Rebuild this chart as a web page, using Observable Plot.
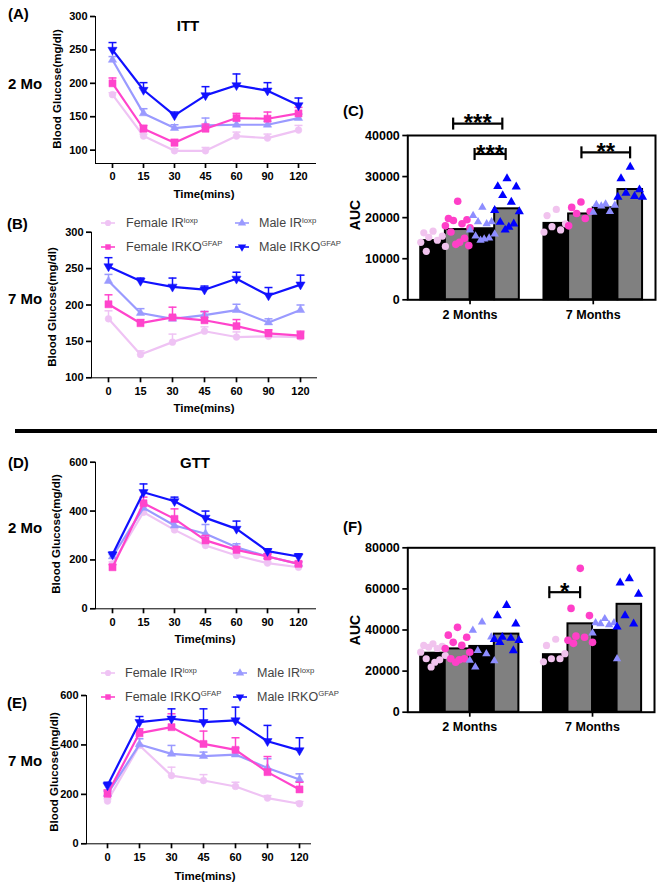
<!DOCTYPE html>
<html>
<head>
<meta charset="utf-8">
<script src="https://cdn.jsdelivr.net/npm/d3@7"></script>
<script src="https://cdn.jsdelivr.net/npm/@observablehq/plot@0.6"></script>
<style>
html,body{margin:0;padding:0;background:#fff;}
#fig{position:relative;width:663px;height:886px;overflow:hidden;font-family:"Liberation Sans",Arial,sans-serif;color:#000;background:#fff;}
.abs{position:absolute;white-space:nowrap;line-height:1;}
.panel svg{overflow:visible;}
.panel svg [aria-label*="axis"] line,.panel svg [aria-label*="axis"] path{stroke-width:1.7px;}
.panel svg g[aria-label*="axis"]{stroke-width:1.7px;}
sup{font-size:0.62em;vertical-align:0;position:relative;top:-0.55em;}
</style>
</head>
<body>
<div id="fig"></div>
<script>
// ---------- categories / labels ----------
const times = ["0","15","30","45","60","90","120"];
const seriesNames = ["Female IRloxp","Female IRKO","Male IRloxp","Male IRKO"];
const legendLabels = ["Female IR<sup>loxp</sup>","Female IRKO<sup>GFAP</sup>","Male IR<sup>loxp</sup>","Male IRKO<sup>GFAP</sup>"];
const months = ["2 Months","7 Months"];
const glucoseTicks = [100,150,200,250,300];
const gttTicks = [0,200,400,600];
const aucTicksC = [0,10000,20000,30000,40000];
const aucTicksF = [0,20000,40000,60000,80000];

// ---------- (A) ITT 2 Mo : mean and SEM ----------
const ittA_fLoxp = [183,121,99,99,121,118,130];
const ittA_fLoxp_sem = [3,3,3,5,6,6,7];
const ittA_fKO = [200,132,111,132,148,147,155];
const ittA_fKO_sem = [8,5,5,7,7,10,9];
const ittA_mLoxp = [235,155,133,137,138,138,148];
const ittA_mLoxp_sem = [5,7,5,11,6,5,6];
const ittA_mKO = [250,190,152,182,197,189,167];
const ittA_mKO_sem = [11,11,5,13,17,12,11];
// ---------- (B) ITT 7 Mo ----------
const ittB_fLoxp = [181,132,149,164,156,157,156];
const ittB_fLoxp_sem = [11,5,11,6,7,3,6];
const ittB_fKO = [201,175,183,179,171,161,158];
const ittB_fKO_sem = [13,5,14,12,9,5,6];
const ittB_mLoxp = [233,189,181,186,193,176,193];
const ittB_mLoxp_sem = [9,6,4,5,8,5,7];
const ittB_mKO = [253,233,225,221,236,213,228];
const ittB_mKO_sem = [12,4,12,5,9,11,13];
// ---------- (D) GTT 2 Mo ----------
const gttD_fLoxp = [184,395,323,259,218,187,170];
const gttD_fLoxp_sem = [8,10,8,8,6,5,5];
const gttD_fKO = [170,432,368,280,241,214,184];
const gttD_fKO_sem = [11,25,41,20,14,11,10];
const gttD_mLoxp = [214,413,341,307,252,214,184];
const gttD_mLoxp_sem = [8,19,14,38,14,11,7];
const gttD_mKO = [222,477,440,372,327,236,214];
const gttD_mKO_sem = [10,34,17,28,32,9,11];
// ---------- (E) GTT 7 Mo ----------
const gttE_fLoxp = [173,398,276,256,232,185,162];
const gttE_fLoxp_sem = [9,36,34,24,17,10,9];
const gttE_fKO = [202,448,472,404,380,290,220];
const gttE_fKO_sem = [16,17,54,52,49,63,29];
const gttE_mLoxp = [202,402,364,355,361,307,260];
const gttE_mLoxp_sem = [11,23,34,16,27,37,23];
const gttE_mKO = [236,492,506,492,499,415,378];
const gttE_mKO_sem = [13,23,40,54,54,64,51];

// ---------- (C) ITT AUC : bar means [2 Months, 7 Months] ----------
const aucC_fLoxp = [14400,18600];
const aucC_fKO = [17100,20900];
const aucC_mLoxp = [17300,22400];
const aucC_mKO = [22150,26850];
// individual animals
const ptsC_fLoxp_2 = [16700,16300,15500,15200,14500,14000,13000,11800];
const ptsC_fKO_2 = [24000,19800,19500,19300,18500,18000,17500,16500,15000,14000,13500,13200];
const ptsC_mLoxp_2 = [22500,20500,19000,19000,18500,17000,16000,15500,15000,14800,14500];
const ptsC_mKO_2 = [29500,27600,27500,25400,23800,21800,21500,18900,18500,17700,17000];
const ptsC_fLoxp_7 = [22000,20500,18500,17800,17000,16500];
const ptsC_fKO_7 = [23800,22500,21500,21000,19800,18000];
const ptsC_mLoxp_7 = [23300,23200,23000,22800,21500,21300];
const ptsC_mKO_7 = [32300,29500,26800,26000,25200,25000,25000];
const bracketsC = [
  {group:0, from:-0.137, to:0.262, y:42900, label:"***"},
  {group:0, from:0.037, to:0.289, y:35500, label:"***"},
  {group:1, from:-0.096, to:0.299, y:35900, label:"**"}
];

// ---------- (F) GTT AUC ----------
const aucF_fLoxp = [28700,28000];
const aucF_fKO = [30800,43000];
const aucF_mLoxp = [32000,39800];
const aucF_mKO = [38000,52500];
const ptsF_fLoxp_2 = [33300,32500,32000,31600,31000,29200,27600,26000,25500,24300,22000];
const ptsF_fKO_2 = [41300,37500,36500,34000,32500,31000,29200,26000,26000,25500,24300];
const ptsF_mLoxp_2 = [43800,39800,36500,30000,28400,25200,25000,22000];
const ptsF_mKO_2 = [52000,47000,43000,36500,36000,35500,35000,34000,30000];
const ptsF_fLoxp_7 = [35500,32500,28500,26000,26000,24500];
const ptsF_fKO_7 = [70000,50500,47000,37000,36500,35000,34000,33500];
const ptsF_mLoxp_7 = [45500,43500,43500,43000,42500,38500,26000];
const ptsF_mKO_7 = [65000,63000,57500,47000,43000,41500];
const bracketsF = [
  {group:1, from:-0.352, to:-0.101, y:58400, label:"*"}
];

// ---------- styles ----------
const lineColors = ["#efc3f4","#ff44cc","#9a9aff","#1111ff"];
const dotColors = ["#f1c3ee","#ff3fc8","#8d8dff","#0000ff"];
const FONT = "'Liberation Sans', Arial, sans-serif";

const downTri = {draw(ctx,size){const y=-Math.sqrt(size/(Math.sqrt(3)*3)); ctx.moveTo(0,-2*y); ctx.lineTo(-Math.sqrt(3)*y,y); ctx.lineTo(Math.sqrt(3)*y,y); ctx.closePath();}};
const capSym = {draw(ctx,size){const w=Math.sqrt(size/Math.PI); ctx.moveTo(-w,0); ctx.lineTo(w,0);}};
const vSym = {draw(ctx,size){const h=Math.sqrt(size/Math.PI); ctx.moveTo(0,-h); ctx.lineTo(0,h);}};
const lineSyms = ["circle","square","triangle",downTri];
const lineR = [3.4,4,3.1,3.4];
const legendSymTypes = [d3.symbolCircle,d3.symbolSquare,d3.symbolTriangle,downTri];
const barSyms = ["circle","circle","triangle","triangle"];
const barR = [3.6,3.8,3.1,3.4];
const jit = [0,-0.075,0.075,-0.035,0.035,-0.1,0.1,-0.055,0.055,0.015,-0.015,0.09];

const fig = document.getElementById("fig");
function addPlot(svg,left,top,width){
  const d=document.createElement("div");
  d.className="abs panel"; d.style.left=left+"px"; d.style.top=top+"px"; d.style.width=width+"px";
  d.appendChild(svg); fig.appendChild(d);
}
function addText(html,x,y,o={}){
  const d=document.createElement("div");
  d.className="abs"; d.innerHTML=html;
  d.style.left=x+"px"; d.style.top=y+"px";
  d.style.fontSize=(o.size||12)+"px";
  d.style.fontWeight=o.weight||"bold";
  d.style.color=o.color||"#000";
  const tx=o.anchor==="start"?"0":"-50%";
  d.style.transform=`translate(${tx},-50%)`+(o.rotate?` rotate(${o.rotate}deg)`:"");
  fig.appendChild(d);
}

function linePanel(cfg){
  const marks=[];
  for(const k of [0,2,1,3]){
    const d=times.map((t,i)=>({time:t,value:cfg.vals[k][i],sem:cfg.sems[k][i]}));
    const c=lineColors[k];
    marks.push(
      Plot.ruleX(d,{x:"time",y1:"value",y2:r=>r.value+r.sem,stroke:c,strokeWidth:1.5}),
      Plot.dot(d,{x:"time",y:r=>r.value+r.sem,symbol:capSym,r:4,stroke:c,fill:"none",strokeWidth:1.5}),
      Plot.line(d,{x:"time",y:"value",stroke:c,strokeWidth:2.2}),
      Plot.dot(d,{x:"time",y:"value",symbol:lineSyms[k],r:lineR[k],fill:c,stroke:c,strokeWidth:0.5})
    );
  }
  const svg=Plot.plot({
    width:cfg.width,height:cfg.height,
    marginLeft:cfg.mL,marginRight:cfg.mR,marginTop:cfg.mT,marginBottom:cfg.mB,
    style:{fontFamily:FONT,fontSize:"11px",fontWeight:"bold",color:"#000",background:"transparent"},
    x:{type:"point",domain:times,padding:cfg.pad,align:cfg.align??0.5,label:null,tickSize:5,tickPadding:4,line:true},
    y:{domain:cfg.yDomain,ticks:cfg.yTicks,label:null,tickSize:5,tickPadding:3,line:true},
    marks
  });
  addPlot(svg,cfg.left,cfg.top,cfg.width);
}

function barPanel(cfg){
  const bw=0.2;
  const bars=[];
  cfg.means.forEach((arr,k)=>arr.forEach((v,g)=>bars.push({k,g,x1:g+(k-2)*bw,x2:g+(k-1)*bw,value:v})));
  const pts=[];
  cfg.pts.forEach((byMonth,k)=>byMonth.forEach((vals,g)=>{
    [...vals].sort((a,b)=>b-a).forEach((v,i)=>pts.push({k,x:g+(k-1.5)*bw+jit[i%jit.length],value:v}));
  }));
  const brk=cfg.brackets;
  const marks=[
    Plot.rect(bars.filter(b=>b.k%2===0),{x1:"x1",x2:"x2",y1:0,y2:"value",fill:"#000",stroke:"#000",strokeWidth:2}),
    Plot.rect(bars.filter(b=>b.k%2===1),{x1:"x1",x2:"x2",y1:0,y2:"value",fill:"#808080",stroke:"#000",strokeWidth:2})
  ];
  for(const k of [0,1,2,3]) marks.push(Plot.dot(pts.filter(p=>p.k===k),{x:"x",y:"value",symbol:barSyms[k],r:barR[k],fill:dotColors[k],stroke:"none"}));
  marks.push(
    Plot.ruleY(brk,{y:"y",x1:d=>d.group+d.from,x2:d=>d.group+d.to,stroke:"#000",strokeWidth:2.2}),
    Plot.dot(brk.flatMap(d=>[{x:d.group+d.from,y:d.y},{x:d.group+d.to,y:d.y}]),{x:"x",y:"y",symbol:vSym,r:6,stroke:"#000",fill:"none",strokeWidth:2.2}),
    Plot.text(brk,{x:d=>d.group+(d.from+d.to)/2,y:"y",text:"label",fontSize:24,fontWeight:"bold",fill:"#000"}),
    Plot.frame({stroke:"#000",strokeWidth:2})
  );
  const svg=Plot.plot({
    width:cfg.width,height:cfg.height,
    marginLeft:cfg.mL,marginRight:cfg.mR,marginTop:cfg.mT,marginBottom:cfg.mB,
    style:{fontFamily:FONT,fontSize:"12.5px",fontWeight:"bold",color:"#000",background:"transparent"},
    x:{domain:[-0.505,1.505],ticks:[0,1],tickFormat:i=>months[i],label:null,tickSize:5,tickPadding:5},
    y:{domain:cfg.yDomain,ticks:cfg.yTicks,tickFormat:d3.format("d"),label:null,tickSize:5,tickPadding:3},
    marks
  });
  addPlot(svg,cfg.left,cfg.top,cfg.width);
}

function legend(y1,y2,sx1,tx1,sx2,tx2){
  const items=[[0,sx1,tx1,y1],[2,sx2,tx2,y1],[1,sx1,tx1,y2],[3,sx2,tx2,y2]];
  for(const [k,sx,tx,y] of items){
    const svg=d3.create("svg").attr("width",16).attr("height",12)
      .style("position","absolute").style("left",(sx-8)+"px").style("top",(y-6)+"px").style("overflow","visible");
    svg.append("line").attr("x1",1).attr("x2",15).attr("y1",6).attr("y2",6).attr("stroke",lineColors[k]).attr("stroke-width",1.6);
    svg.append("path").attr("transform","translate(8,6)").attr("d",d3.symbol(legendSymTypes[k],30)()).attr("fill",lineColors[k]);
    fig.appendChild(svg.node());
    addText(legendLabels[k],tx,y,{size:12.5,weight:"normal",color:"#444",anchor:"start"});
  }
}

// ---------- draw panels ----------
linePanel({left:0,top:0,width:320,height:185,mL:95,mR:5,mT:16,mB:22,pad:0.47,
  yDomain:[80,300],yTicks:glucoseTicks,
  vals:[ittA_fLoxp,ittA_fKO,ittA_mLoxp,ittA_mKO],sems:[ittA_fLoxp_sem,ittA_fKO_sem,ittA_mLoxp_sem,ittA_mKO_sem]});
linePanel({left:0,top:225,width:320,height:175,mL:91,mR:4,mT:6.7,mB:22.7,pad:0.49,
  yDomain:[100,300],yTicks:glucoseTicks,
  vals:[ittB_fLoxp,ittB_fKO,ittB_mLoxp,ittB_mKO],sems:[ittB_fLoxp_sem,ittB_fKO_sem,ittB_mLoxp_sem,ittB_mKO_sem]});
linePanel({left:0,top:450,width:320,height:180,mL:95,mR:5,mT:11.7,mB:21.7,pad:0.47,
  yDomain:[0,600],yTicks:gttTicks,
  vals:[gttD_fLoxp,gttD_fKO,gttD_mLoxp,gttD_mKO],sems:[gttD_fLoxp_sem,gttD_fKO_sem,gttD_mLoxp_sem,gttD_mKO_sem]});
linePanel({left:0,top:685,width:320,height:180,mL:86,mR:10,mT:10,mB:21.7,pad:0.477,align:0.67,
  yDomain:[0,600],yTicks:gttTicks,
  vals:[gttE_fLoxp,gttE_fKO,gttE_mLoxp,gttE_mKO],sems:[gttE_fLoxp_sem,gttE_fKO_sem,gttE_mLoxp_sem,gttE_mKO_sem]});

barPanel({left:330,top:95,width:333,height:235,mL:77.3,mR:8,mT:40,mB:30.7,
  yDomain:[0,40000],yTicks:aucTicksC,
  means:[aucC_fLoxp,aucC_fKO,aucC_mLoxp,aucC_mKO],
  pts:[[ptsC_fLoxp_2,ptsC_fLoxp_7],[ptsC_fKO_2,ptsC_fKO_7],[ptsC_mLoxp_2,ptsC_mLoxp_7],[ptsC_mKO_2,ptsC_mKO_7]],
  brackets:bracketsC});
barPanel({left:330,top:520,width:333,height:225,mL:77.3,mR:9,mT:27.3,mB:33.3,
  yDomain:[0,80000],yTicks:aucTicksF,
  means:[aucF_fLoxp,aucF_fKO,aucF_mLoxp,aucF_mKO],
  pts:[[ptsF_fLoxp_2,ptsF_fLoxp_7],[ptsF_fKO_2,ptsF_fKO_7],[ptsF_mLoxp_2,ptsF_mLoxp_7],[ptsF_mKO_2,ptsF_mKO_7]],
  brackets:bracketsF});

legend(223.3,246.7,108,126,242,259);
legend(673.3,696.7,108,125,240,257);

// ---------- text ----------
addText("(A)",8,13,{size:15,anchor:"start"});
addText("2 Mo",8,83,{size:15,anchor:"start"});
addText("ITT",188,25,{size:15});
addText("(B)",7,223,{size:15,anchor:"start"});
addText("7 Mo",8,298,{size:15,anchor:"start"});
addText("(C)",343,110,{size:15,anchor:"start"});
addText("(D)",8,462,{size:15,anchor:"start"});
addText("GTT",195,462,{size:15});
addText("2 Mo",8,527,{size:15,anchor:"start"});
addText("(E)",7,702,{size:15,anchor:"start"});
addText("7 Mo",8,760,{size:15,anchor:"start"});
addText("(F)",343,526,{size:15,anchor:"start"});
for(const [x,y] of [[204,195],[204,409],[205,640],[205,877]]) addText("Time(mins)",x,y,{size:11.5});
for(const [x,y] of [[58,89],[53,306.7],[57,534],[55,771.7]]) addText("Blood Glucose(mg/dl)",x,y,{size:11.5,rotate:-90});
addText("AUC",355,215,{size:14,rotate:-90});
addText("AUC",355,630,{size:14,rotate:-90});

const sep=document.createElement("div");
sep.className="abs"; sep.style.left="15px"; sep.style.top="429px"; sep.style.width="642px"; sep.style.height="3.5px"; sep.style.background="#000";
fig.appendChild(sep);
</script>
</body>
</html>
